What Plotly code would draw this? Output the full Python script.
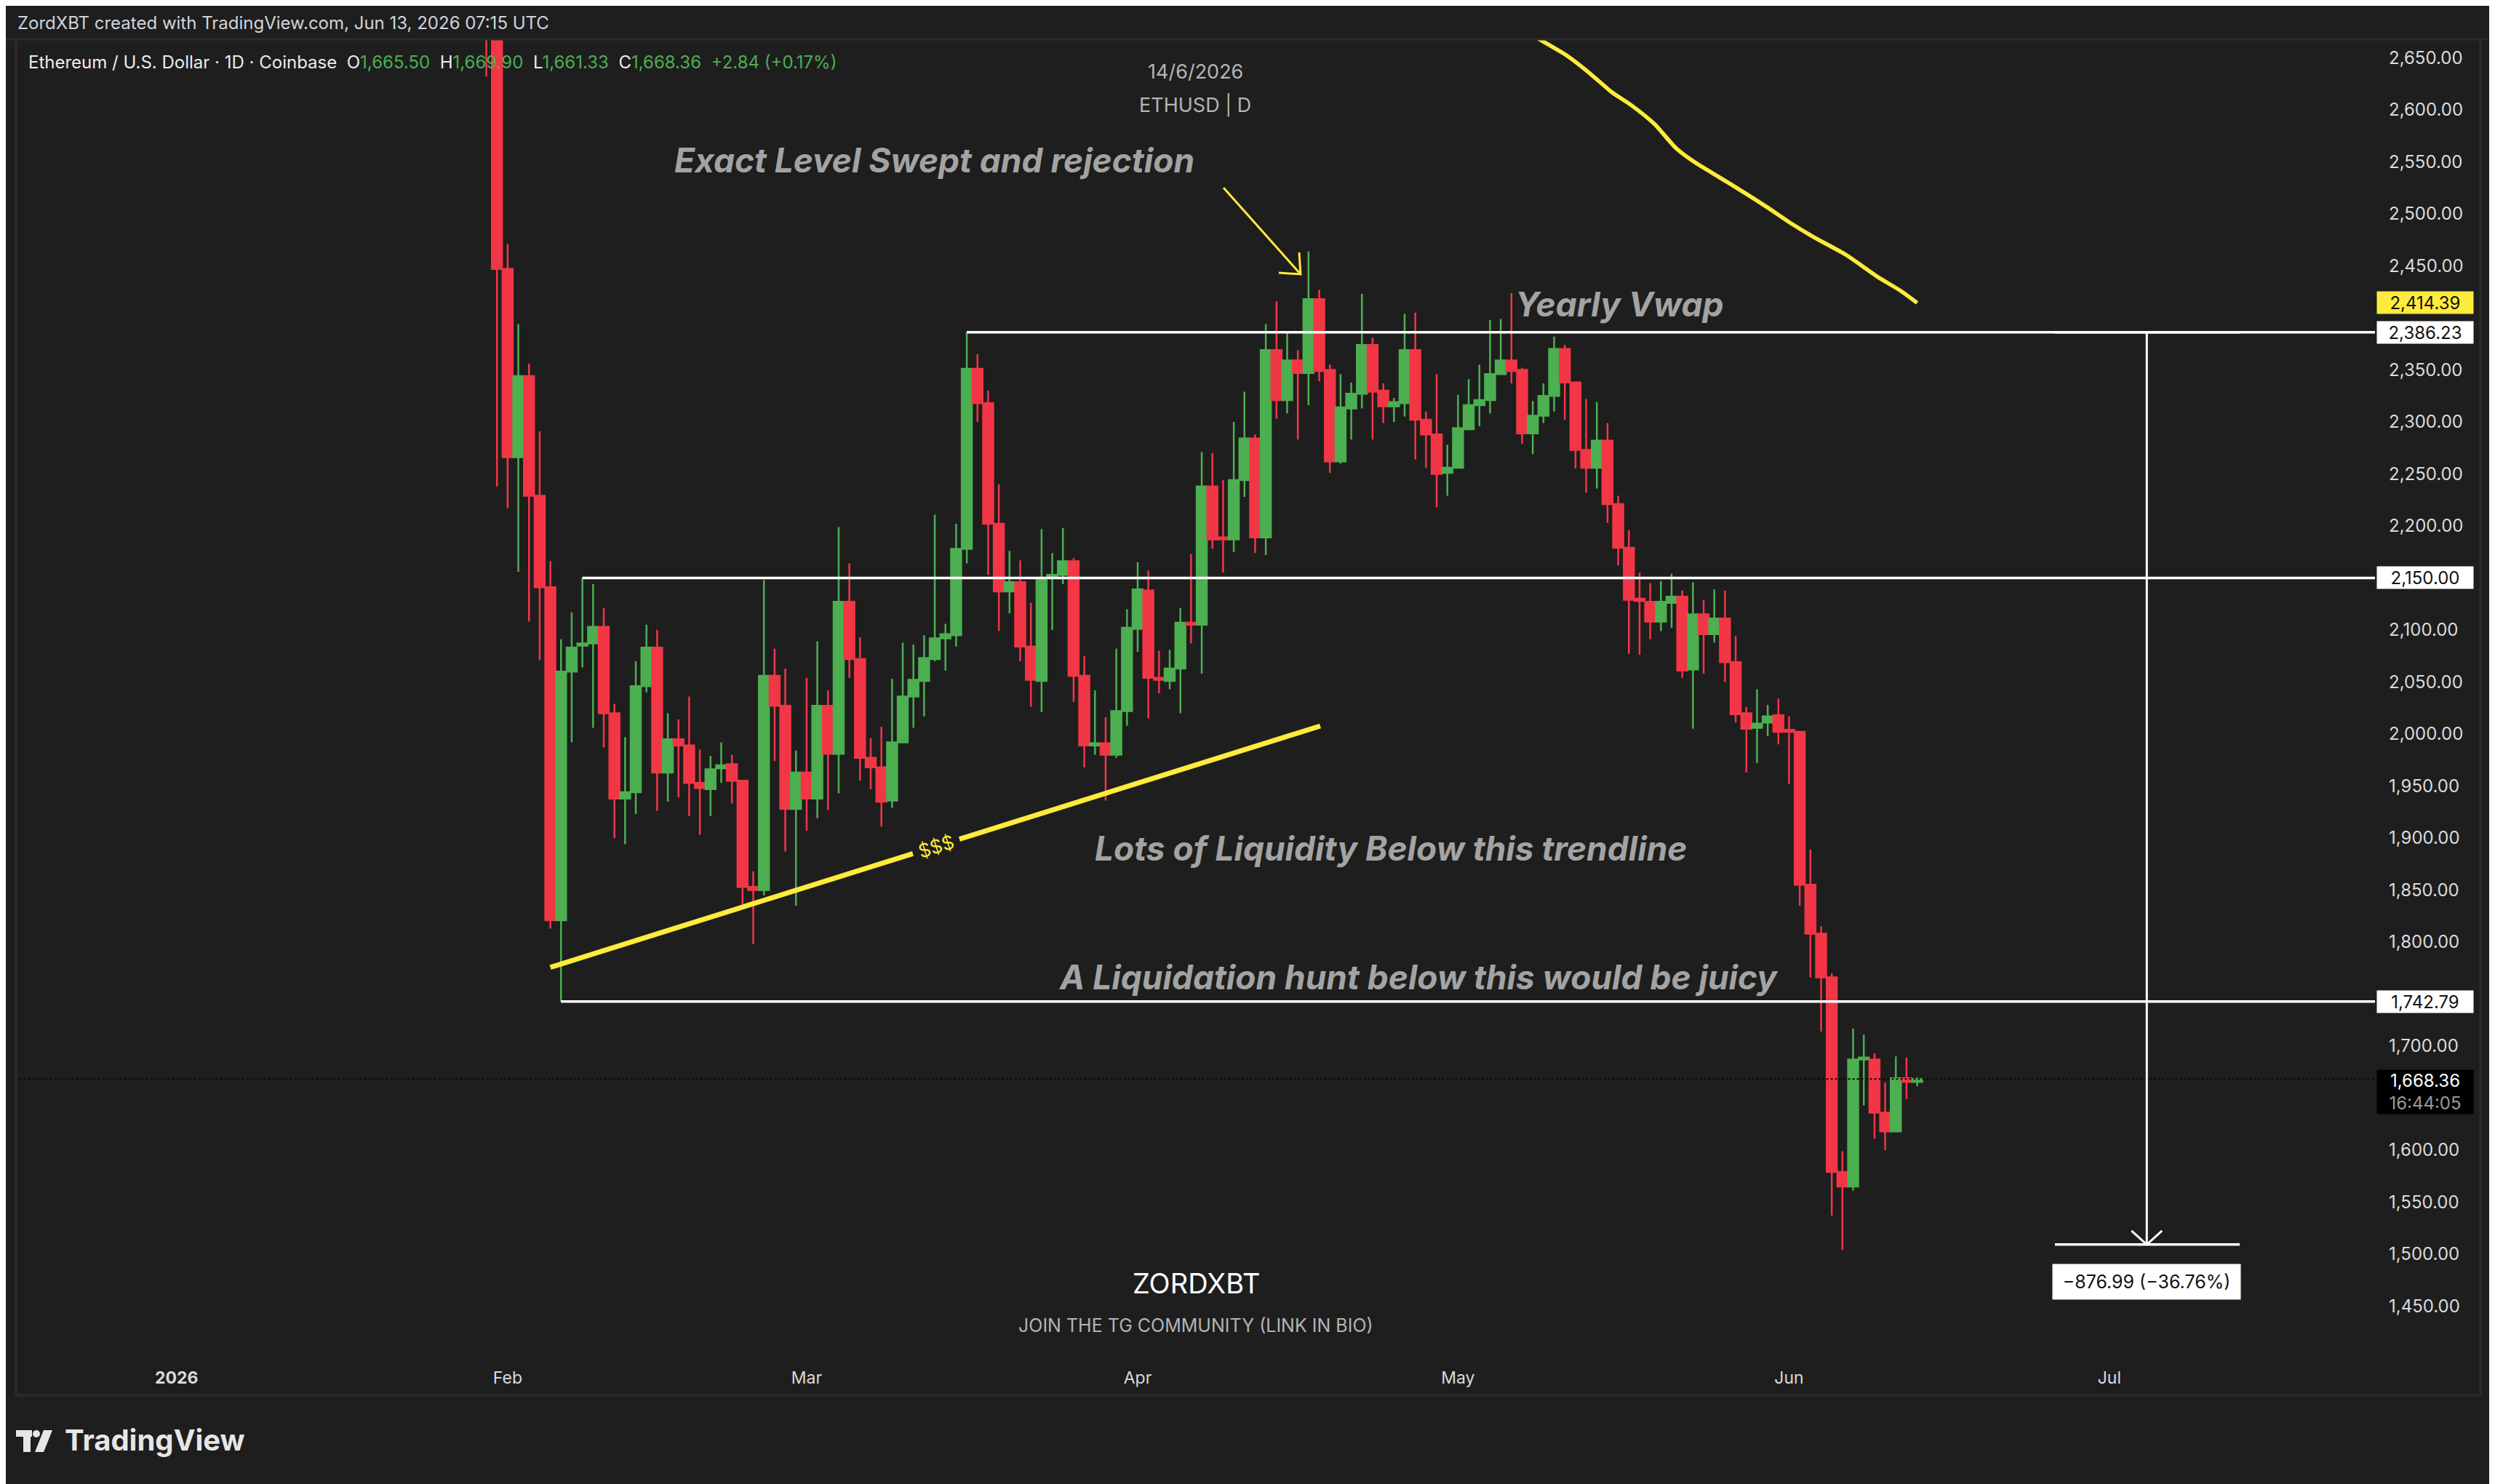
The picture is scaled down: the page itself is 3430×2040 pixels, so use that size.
import plotly.graph_objects as go
import pandas as pd

# ---------------- data ----------------
dates = pd.date_range("2026-01-30", "2026-06-13", freq="D")
opens = [2760, 2700, 2447, 2266, 2344, 2229, 2141, 1821, 2060, 2085, 2087, 2103, 2020, 1938, 1944, 2046,
         2083, 1963, 1995, 1989, 1953, 1947, 1967, 1971, 1955, 1853, 1850, 2056, 2027, 1928,
         1963, 1938, 2027, 1981, 2127, 2072, 1977, 1968, 1936, 1992, 2036, 2051, 2072, 2092, 2095, 2178,
         2351, 2318, 2202, 2137, 2146, 2084, 2051, 2150, 2153, 2166, 2056, 1989, 1991, 1980, 2022,
         2101, 2138, 2054, 2051, 2063, 2107, 2105, 2238, 2189, 2187, 2244, 2284, 2189, 2369, 2321, 2359,
         2347, 2418, 2350, 2262, 2313, 2327, 2374, 2330, 2315, 2318, 2369, 2302, 2288, 2251,
         2256, 2293, 2316, 2321, 2346, 2359, 2350, 2289, 2306, 2325, 2370, 2338, 2273, 2256, 2282, 2221,
         2179, 2130, 2127, 2108, 2126, 2132, 2062, 2115, 2096, 2111, 2069, 2020, 2006, 2011, 2018,
         2004, 2002, 1855, 1808, 1766, 1579, 1565, 1687, 1687, 1636, 1618, 1669, 1665.50]
highs = [2790, 2712, 2471, 2394, 2356, 2291, 2166, 2091, 2117, 2150, 2144, 2121, 2029, 1997, 2070, 2105,
         2100, 2020, 2014, 2036, 1985, 1979, 1992, 1980, 1956, 1868, 2148, 2082, 2063, 1984,
         2054, 2089, 2042, 2199, 2164, 2093, 1996, 2007, 2053, 2088, 2086, 2095, 2211, 2106, 2202, 2386.23,
         2365, 2330, 2240, 2176, 2167, 2126, 2197, 2174, 2198, 2169, 2075, 2042, 2016, 2082, 2120,
         2165, 2157, 2080, 2081, 2121, 2173, 2271, 2270, 2244, 2300, 2329, 2288, 2394, 2416, 2386, 2369,
         2464, 2427, 2355, 2346, 2338, 2423, 2381, 2337, 2323, 2404, 2405, 2310, 2346, 2278,
         2326, 2341, 2355, 2398, 2399, 2424, 2352, 2320, 2337, 2382, 2374, 2339, 2322, 2319, 2299, 2229,
         2196, 2155, 2145, 2147, 2154, 2138, 2146, 2129, 2139, 2138, 2094, 2026, 2043, 2028, 2034,
         2017, 2003, 1889, 1815, 1770, 1599, 1717, 1711, 1693, 1665, 1690, 1689, 1669.90]
lows = [2632, 2238, 2217, 2156, 2108, 2071, 1813, 1742.79, 1992, 2064, 2006, 1987, 1900, 1894, 1923, 2040,
        1926, 1935, 1939, 1921, 1903, 1921, 1953, 1933, 1836, 1798, 1845, 1974, 1887, 1835,
        1907, 1919, 1927, 1943, 2054, 1955, 1947, 1911, 1929, 1991, 2006, 2017, 2070, 2061, 2084, 2164,
        2300, 2153, 2099, 2116, 2070, 2026, 2021, 2100, 2144, 2031, 1968, 1980, 1936, 1977, 2008,
        2079, 2015, 2039, 2043, 2020, 2087, 2058, 2178, 2155, 2175, 2228, 2174, 2172, 2303, 2308, 2283,
        2316, 2339, 2251, 2260, 2283, 2313, 2283, 2299, 2300, 2305, 2264, 2256, 2218, 2229,
        2255, 2292, 2296, 2308, 2345, 2337, 2279, 2269, 2299, 2310, 2302, 2255, 2232, 2236, 2203, 2162,
        2077, 2076, 2091, 2099, 2102, 2054, 2005, 2058, 2088, 2050, 2011, 1963, 1972, 1998, 1990,
        1952, 1835, 1766, 1714, 1537, 1504, 1561, 1643, 1611, 1600, 1617, 1649, 1661.33]
closes = [2700, 2447, 2266, 2344, 2229, 2141, 1821, 2060, 2083, 2087, 2103, 2020, 1938, 1944, 2046, 2083,
          1963, 1995, 1989, 1953, 1948, 1966, 1970, 1955, 1853, 1850, 2056, 2027, 1928, 1963,
          1938, 2027, 1981, 2127, 2072, 1977, 1968, 1935, 1992, 2036, 2052, 2073, 2092, 2096, 2178, 2351,
          2318, 2202, 2137, 2146, 2084, 2052, 2150, 2153, 2166, 2056, 1989, 1991, 1980, 2022, 2102,
          2139, 2054, 2052, 2063, 2107, 2105, 2238, 2187, 2187, 2244, 2284, 2189, 2369, 2321, 2359, 2347,
          2418, 2349, 2262, 2314, 2327, 2374, 2329, 2315, 2319, 2369, 2302, 2288, 2250, 2256,
          2294, 2316, 2321, 2346, 2359, 2349, 2289, 2306, 2325, 2370, 2338, 2273, 2256, 2282, 2221, 2179,
          2129, 2128, 2108, 2127, 2132, 2061, 2115, 2096, 2111, 2069, 2019, 2005, 2010, 2017, 2002,
          2002, 1855, 1808, 1766, 1579, 1565, 1687, 1689, 1636, 1618, 1669, 1665.52, 1668.36]

month_ticks = ["2026-01-01", "2026-02-01", "2026-03-01", "2026-04-01", "2026-05-01", "2026-06-01", "2026-07-01"]
month_labels = ["<b>2026</b>", "Feb", "Mar", "Apr", "May", "Jun", "Jul"]
# price ticks shown on the axis (those hidden behind the price labels are left out)
price_ticks = [1450, 1500, 1550, 1600, 1700, 1800, 1850, 1900, 1950, 2000, 2050, 2100, 2150,
               2200, 2250, 2300, 2350, 2450, 2500, 2550, 2600, 2650]

level_values = [2386.23, 2150.00, 1742.79]
level_start_days = [74, 38, 36]          # days after 2026-01-01 where each ray starts
vwap_days = [126.5, 127.7, 130.2, 132.5, 134.4, 136.2, 138.4, 140.4, 142.2, 144.4, 146.6, 148.9,
             151.1, 153.3, 156.3, 159.3, 161.5, 163.0]
vwap_prices = [2675, 2667.3, 2652, 2633.7, 2616.9, 2604.6, 2586.3, 2563.3, 2549.4, 2535.6, 2521.8,
               2506.7, 2491.4, 2477.7, 2460.8, 2439.4, 2425.7, 2414.39]
trend_days = [35.0, 107.1]
trend_prices = [1775.7, 2007.7]
measure_from = 2386.23
measure_change = -876.99
measure_pct = -36.76
measure_days = [175.9, 184.5, 193.2]

# ---------------- layout geometry (screen pixels of the reference) ----------------
W, H = 3430, 2040
OFF = 8                                   # page offset of the plot div
SL, SR, ST, SB = 22, 3265, 54, 1858       # plot area on screen
Y_MIN, Y_MAX = 1406.3, 2667.8
X_MIN_D, X_MAX_D = -15.04, 205.87
BASE = pd.Timestamp("2026-01-01")

GREEN = "#4caf50"
RED = "#f23645"
YEL = "#ffeb3b"
BG = "#1e1e1e"
FONT = "Inter, Roboto, sans-serif"


def X(px):
    return (px - SL) / (SR - SL)


def Y(py):
    return (SB - py) / (SB - ST)


def d2date(d):
    return BASE + pd.Timedelta(days=d)


def day_px(d):
    return SL + (d - X_MIN_D) / (X_MAX_D - X_MIN_D) * (SR - SL)


def price_py(p):
    return SB - (p - Y_MIN) / (Y_MAX - Y_MIN) * (SB - ST)


fig = go.Figure()

fig.add_trace(go.Candlestick(
    x=dates, open=opens, high=highs, low=lows, close=closes,
    increasing=dict(line=dict(color=GREEN, width=2.5), fillcolor=GREEN),
    decreasing=dict(line=dict(color=RED, width=2.5), fillcolor=RED),
    whiskerwidth=0, hoverinfo="skip", showlegend=False,
))

# yearly vwap
fig.add_trace(go.Scatter(x=[d2date(d) for d in vwap_days], y=vwap_prices, mode="lines",
                         line=dict(color=YEL, width=5.5, shape="spline", smoothing=0.6),
                         hoverinfo="skip", showlegend=False))

shapes = []
# horizontal rays
for v, sd in zip(level_values, level_start_days):
    shapes.append(dict(type="line", xref="x", yref="y", x0=d2date(sd), x1=d2date(X_MAX_D + 5),
                       y0=v, y1=v, line=dict(color="white", width=3.5)))
# current price dotted line
shapes.append(dict(type="line", xref="x", yref="y", x0=d2date(X_MIN_D - 5), x1=d2date(X_MAX_D + 5),
                   y0=closes[-1], y1=closes[-1], line=dict(color="#080808", width=2, dash="dot")))
# trendline
shapes.append(dict(type="line", xref="x", yref="y", x0=d2date(trend_days[0]), x1=d2date(trend_days[1]),
                   y0=trend_prices[0], y1=trend_prices[1], line=dict(color=YEL, width=7)))
# measurement tool
m_to = measure_from + measure_change
shapes.append(dict(type="line", xref="x", yref="y", x0=d2date(measure_days[0]), x1=d2date(measure_days[2]),
                   y0=measure_from, y1=measure_from, line=dict(color="white", width=3.5)))
shapes.append(dict(type="line", xref="x", yref="y", x0=d2date(measure_days[0]), x1=d2date(measure_days[2]),
                   y0=m_to, y1=m_to, line=dict(color="white", width=3.5)))
shapes.append(dict(type="line", xref="x", yref="y", x0=d2date(measure_days[1]), x1=d2date(measure_days[1]),
                   y0=measure_from, y1=m_to, line=dict(color="white", width=3)))
tipx, tipy = day_px(measure_days[1]), price_py(m_to)
shapes.append(dict(type="path", xref="paper", yref="paper",
                   path=f"M {X(tipx-21)} {Y(tipy-19)} L {X(tipx)} {Y(tipy)} L {X(tipx+21)} {Y(tipy-19)}",
                   line=dict(color="white", width=3)))
# yellow arrow (drawing)
ax0, ay0, ax1, ay1 = 1682, 258, 1788, 377
shapes.append(dict(type="path", xref="paper", yref="paper",
                   path=f"M {X(ax0)} {Y(ay0)} L {X(ax1)} {Y(ay1)}", line=dict(color=YEL, width=3)))
shapes.append(dict(type="path", xref="paper", yref="paper",
                   path=f"M {X(ax1-30)} {Y(ay1-2)} L {X(ax1)} {Y(ay1)} L {X(ax1-2)} {Y(ay1-30)}",
                   line=dict(color=YEL, width=3)))
# frame
FR_C = "#2c2c2c"
shapes += [
    dict(type="line", xref="paper", yref="paper", x0=X(0), x1=X(3430), y0=Y(54), y1=Y(54), line=dict(color=FR_C, width=3)),
    dict(type="line", xref="paper", yref="paper", x0=X(22), x1=X(22), y0=Y(54), y1=Y(1918), line=dict(color=FR_C, width=3)),
    dict(type="line", xref="paper", yref="paper", x0=X(3410), x1=X(3410), y0=Y(54), y1=Y(1918), line=dict(color=FR_C, width=3)),
    dict(type="line", xref="paper", yref="paper", x0=X(22), x1=X(3410), y0=Y(1918), y1=Y(1918), line=dict(color=FR_C, width=3)),
]
# TradingView logo glyph
LC = "#e6e6e6"
shapes += [
    dict(type="rect", xref="paper", yref="paper", x0=X(22), x1=X(44), y0=Y(1966), y1=Y(1975), fillcolor=LC, line_width=0),
    dict(type="rect", xref="paper", yref="paper", x0=X(32), x1=X(42), y0=Y(1966), y1=Y(1996), fillcolor=LC, line_width=0),
    dict(type="circle", xref="paper", yref="paper", x0=X(45), x1=X(55), y0=Y(1966), y1=Y(1976), fillcolor=LC, line_width=0),
    dict(type="path", xref="paper", yref="paper",
         path=f"M {X(60)} {Y(1966)} L {X(72)} {Y(1966)} L {X(60)} {Y(1996)} L {X(48)} {Y(1996)} Z",
         fillcolor=LC, line_width=0),
]

ann = []


def txt(px, py, text, size, color, xanchor="center", bold=False, italic=False, yanchor="middle"):
    ann.append(dict(xref="paper", yref="paper", x=X(px), y=Y(py), text=text, showarrow=False,
                    xanchor=xanchor, yanchor=yanchor,
                    font=dict(family=FONT, size=size, color=color,
                              weight="bold" if bold else "normal", style="italic" if italic else "normal")))


txt(22, 32, "ZordXBT created with TradingView.com, Jun 13, 2026 07:15 UTC", 24, "#d1d4dc", xanchor="left")
o, h, l, c = opens[-1], highs[-1], lows[-1], closes[-1]
chg = c - closes[-2]
pct = chg / closes[-2] * 100
sp = "&nbsp;&nbsp;"
gs = "<span style='color:%s'>" % GREEN
legend = (f"Ethereum / U.S. Dollar · 1D · Coinbase{sp}O{gs}{o:,.2f}</span>{sp}H{gs}{h:,.2f}</span>{sp}"
          f"L{gs}{l:,.2f}</span>{sp}C{gs}{c:,.2f}</span>{sp}{gs}{chg:+.2f} ({pct:+.2f}%)</span>")
txt(37, 86, legend, 24, "#ececec", xanchor="left")

txt(1643, 98, "14/6/2026", 27, "#b4b4b4")
txt(1643, 145, "ETHUSD | D", 27, "#b4b4b4")
txt(1644, 1764, "ZORDXBT", 38, "#ffffff")
txt(1644, 1822, "JOIN THE TG COMMUNITY (LINK IN BIO)", 25, "#b4b4b4")

GRAY = "#a3a3a3"
txt(1284, 220, "Exact Level Swept and rejection", 46, GRAY, bold=True, italic=True)
txt(2226, 418, "Yearly Vwap", 46, GRAY, bold=True, italic=True)
txt(1912, 1166, "Lots of Liquidity Below this trendline", 46, GRAY, bold=True, italic=True)
txt(1951, 1343, "A Liquidation hunt below this would be juicy", 46, GRAY, bold=True, italic=True)

txt(87, 1979, "TradingView", 40, "#e6e6e6", xanchor="left", bold=True)

# $$$ on trendline
ang = -17.4
mid_d = 71.1
mid_p = trend_prices[0] + (mid_d - trend_days[0]) * (trend_prices[1] - trend_prices[0]) / (trend_days[1] - trend_days[0])
ann.append(dict(xref="x", yref="y", x=d2date(mid_d), y=mid_p, text="$$$", showarrow=False, textangle=ang,
                bgcolor=BG, borderpad=8, xanchor="center", yanchor="middle",
                font=dict(family=FONT, size=26, color=YEL)))

# measurement label
ann.append(dict(xref="x", yref="paper", x=d2date(measure_days[1]), y=Y(1761.5), showarrow=False,
                xanchor="center", yanchor="middle",
                text=f"{measure_change:,.2f} ({measure_pct:.2f}%)".replace("-", "−"),
                bgcolor="white", width=258, height=48, borderpad=0,
                font=dict(family=FONT, size=25, color="#111111")))


# price axis labels
def plabel(price, text, bg, fg, height=30):
    ann.append(dict(xref="paper", yref="y", x=X(3334), y=price, text=text, showarrow=False,
                    xanchor="center", yanchor="middle",
                    bgcolor=bg, width=132, height=height, borderpad=0,
                    font=dict(family=FONT, size=24, color=fg)))


plabel(vwap_prices[-1], f"{vwap_prices[-1]:,.2f}", YEL, "#111111")
for v in level_values:
    plabel(v, f"{v:,.2f}", "white", "#111111")
ann.append(dict(xref="paper", yref="paper", x=X(3334), y=Y(1470), xanchor="center", yanchor="top",
                showarrow=False,
                text=f"{c:,.2f}<br><span style='color:#9a9a9a'>16:44:05</span>",
                bgcolor="#000000", width=132, height=60, borderpad=0,
                font=dict(family=FONT, size=24, color="#ffffff")))

fig.update_layout(
    width=W, height=H,
    margin=dict(l=SL - OFF, r=W - (SR - OFF), t=ST - OFF, b=H - (SB - OFF)),
    paper_bgcolor=BG, plot_bgcolor=BG,
    hovermode=False, showlegend=False,
    boxgap=0.05, boxgroupgap=0.0,
    shapes=shapes, annotations=ann,
    font=dict(family=FONT, color="#dbdbdb"),
    xaxis=dict(type="date", range=[d2date(X_MIN_D), d2date(X_MAX_D)], rangeslider=dict(visible=False),
               tickmode="array", tickvals=month_ticks, ticktext=month_labels,
               showgrid=False, zeroline=False, showline=False, ticks="",
               tickfont=dict(size=23, color="#dbdbdb"), ticklabelstandoff=20),
    yaxis=dict(side="right", range=[Y_MIN, Y_MAX], tickmode="array", tickvals=price_ticks,
               ticktext=[f"{p:,.2f}" for p in price_ticks],
               showgrid=False, zeroline=False, showline=False, ticks="",
               tickfont=dict(size=24, color="#dbdbdb"), ticklabelstandoff=18),
)

fig.write_html("out.html")
